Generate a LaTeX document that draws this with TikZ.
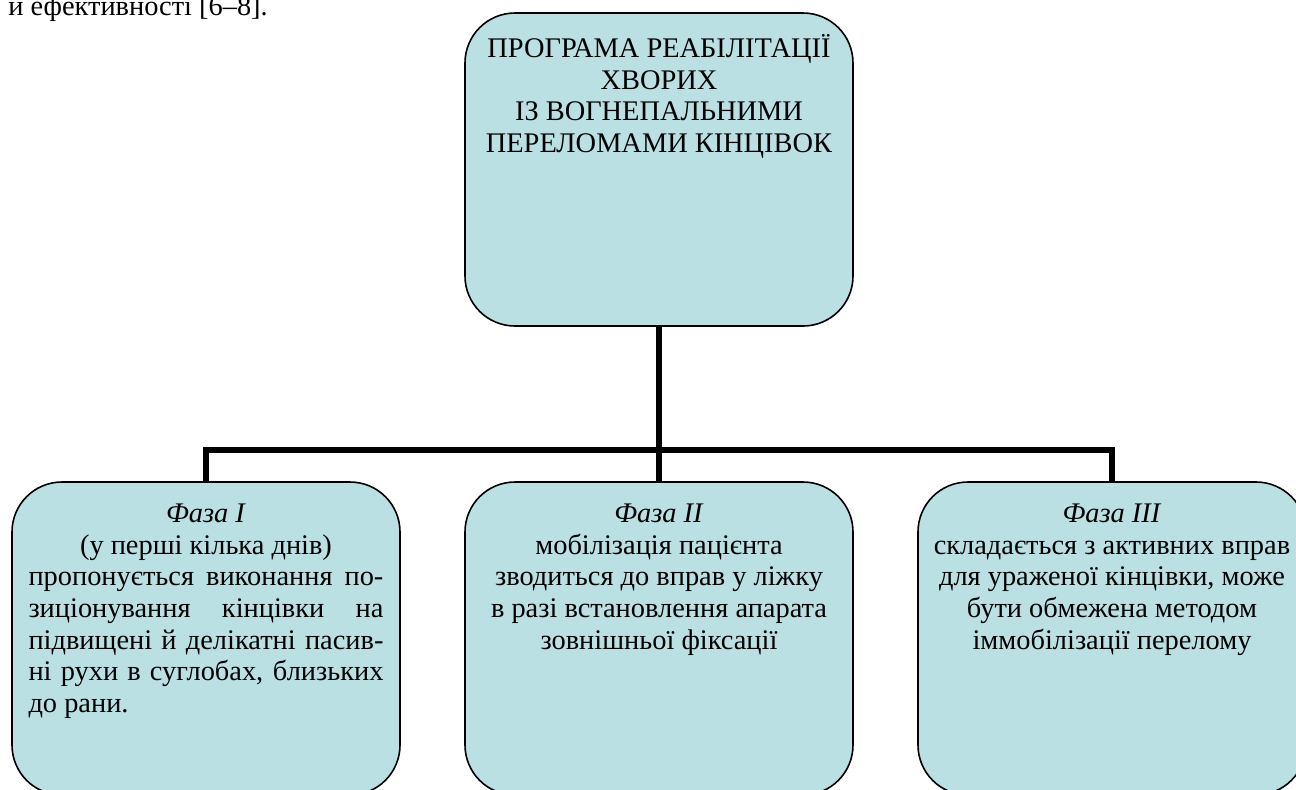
\documentclass[tikz,border=0pt]{standalone}
\usepackage{fontspec}
\setmainfont{Liberation Serif}
\usetikzlibrary{positioning}
\definecolor{blu}{RGB}{186,224,228}
\begin{document}
\begin{tikzpicture}[x=0.5pt,y=-0.5pt,line join=round,font=\fontsize{14.2}{15.8}\selectfont]
	\tikzset{box/.style={draw,thick,fill=blu,rounded corners=25pt,minimum width=194pt,minimum height=156.5pt,inner sep=0pt},
	txt/.style={inner sep=0pt,align=center,anchor=north},
	conn/.style={line width=3pt,line join=miter}}
	\def\fw{177.5pt}
	\useasboundingbox(0,0)rectangle(1296,789);
	\clip(0,0)rectangle(1296,789);
	\node[anchor=base west,inner sep=0pt](prev)at(8,15){й ефективності [6--8].};
	\node[box](prog)at(659,169.5){};
	\node[box](f1)at(206,638.5){};
	\node[box](f2)at(659,638.5){};
	\node[box](f3)at(1112,638.5){};
	\node[txt,below=11pt of prog.north](progt){\strut ПРОГРАМА РЕАБІЛІТАЦІЇ\\ХВОРИХ\\ІЗ ВОГНЕПАЛЬНИМИ\\ПЕРЕЛОМАМИ КІНЦІВОК};
	\node[txt,below=9.5pt of f1.north](f1t){\strut\textit{Фаза I}\\(у перші кілька днів)\\\makebox[\fw][s]{пропонується виконання по-}\\\makebox[\fw][s]{зиціонування кінцівки на}\\\makebox[\fw][s]{підвищені й делікатні пасив-}\\\makebox[\fw][s]{ні рухи в суглобах, близьких}\\\makebox[\fw][l]{до рани.}};
	\node[txt,below=9.5pt of f2.north](f2t){\strut\textit{Фаза II}\\мобілізація пацієнта\\зводиться до вправ у ліжку\\в разі встановлення апарата\\зовнішньої фіксації};
	\node[txt,below=9.5pt of f3.north](f3t){\strut\textit{Фаза III}\\складається з активних вправ\\для ураженої кінцівки, може\\бути обмежена методом\\іммобілізації перелому};
	\coordinate(bar)at(659,450);
	\draw[conn](prog.south)--(bar);
	\draw[conn](f1.north)|-(bar)-|(f3.north);
	\draw[conn](bar)--(f2.north);
\end{tikzpicture}
\end{document}
